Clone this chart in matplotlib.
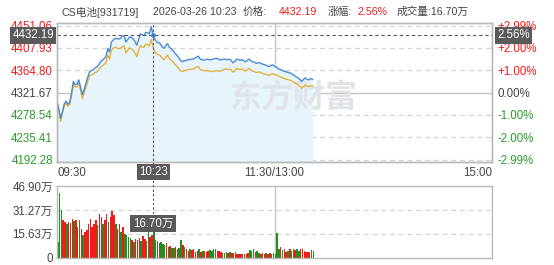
import numpy as np
import matplotlib.pyplot as plt
from matplotlib.transforms import blended_transform_factory

plt.rcParams['font.family'] = ['Liberation Sans', 'Noto Sans CJK SC']

# data, one value per minute from 09:30
prev_close = 4321.67
price = [4305, 4290, 4272, 4285, 4300, 4305, 4299, 4303, 4320, 4343,
         4337, 4338, 4346, 4332, 4318, 4328, 4340, 4352, 4362, 4364,
         4366, 4369, 4371, 4375, 4381, 4384, 4387, 4391, 4407, 4400,
         4419, 4423, 4426, 4426, 4425, 4426, 4430, 4432, 4419, 4424,
         4429, 4428, 4426, 4420, 4413, 4424, 4435, 4433, 4432, 4438,
         4437, 4435, 4449, 4432.19, 4425, 4419, 4418, 4416, 4410, 4407,
         4412, 4416, 4409, 4406, 4403, 4398, 4394, 4390, 4384, 4381,
         4383, 4383, 4385, 4385, 4386, 4386, 4388, 4390, 4392, 4386,
         4385, 4384, 4385, 4386, 4385, 4385, 4386, 4387, 4388, 4386,
         4385, 4385, 4386, 4386, 4385, 4386, 4384, 4379, 4381, 4386,
         4385, 4384, 4385, 4383, 4381, 4384, 4386, 4383, 4381, 4380,
         4378, 4379, 4379, 4377, 4376, 4375, 4373, 4372, 4374, 4375,
         4372, 4371, 4368, 4366, 4365, 4363, 4362, 4361, 4360, 4359,
         4357, 4354, 4352, 4350, 4347, 4343, 4347, 4350, 4347, 4346,
         4349, 4347]
avg_line = [4303, 4286, 4266, 4281, 4296, 4301, 4295, 4299, 4315, 4338,
            4332, 4333, 4340, 4326, 4310, 4321, 4332, 4344, 4354, 4356,
            4357, 4360, 4362, 4365, 4371, 4373, 4376, 4379, 4394, 4386,
            4404, 4407, 4409, 4408, 4406, 4407, 4410, 4412, 4398, 4403,
            4408, 4406, 4404, 4398, 4391, 4402, 4412, 4410, 4409, 4415,
            4414, 4412, 4424, 4410, 4400, 4396, 4395, 4393, 4388, 4385,
            4390, 4394, 4387, 4384, 4381, 4376, 4373, 4369, 4364, 4362,
            4364, 4364, 4366, 4366, 4367, 4367, 4369, 4371, 4372, 4366,
            4365, 4364, 4364, 4364, 4363, 4362, 4363, 4363, 4364, 4363,
            4363, 4364, 4366, 4367, 4366, 4367, 4366, 4361, 4363, 4368,
            4367, 4366, 4367, 4365, 4363, 4366, 4368, 4365, 4363, 4362,
            4360, 4361, 4361, 4359, 4358, 4357, 4356, 4355, 4357, 4358,
            4356, 4356, 4354, 4352, 4351, 4349, 4348, 4347, 4346, 4345,
            4343, 4340, 4339, 4337, 4334, 4330, 4333, 4336, 4334, 4333,
            4335, 4334]
volume = [10.3, 42.7, 31.2, 24.6, 23.5, 22.4, 23.5, 22.9, 25.7, 24.2,
          24.6, 20.2, 25.0, 19.0, 14.7, 17.0, 18.0, 22.4, 25.7, 20.2,
          22.4, 24.6, 21.3, 29.0, 26.8, 22.4, 24.6, 29.0, 23.5, 26.8,
          30.8, 28.0, 22.4, 19.0, 22.4, 17.0, 20.2, 15.8, 14.7, 13.6,
          13.2, 11.4, 10.3, 12.5, 11.4, 13.2, 11.0, 14.0, 12.5, 11.0,
          17.0, 13.6, 14.7, 16.70, 11.9, 11.0, 9.7, 10.3, 8.8, 8.1,
          9.7, 7.0, 7.5, 6.0, 6.0, 7.0, 5.3, 6.0, 11.4, 8.1,
          7.0, 5.9, 4.4, 5.9, 4.8, 5.3, 3.7, 4.4, 5.9, 3.7,
          4.4, 4.0, 3.5, 4.0, 4.8, 4.4, 5.3, 5.7, 4.4, 4.0,
          3.5, 3.1, 3.1, 3.5, 3.1, 3.5, 3.1, 3.1, 3.5, 2.6,
          2.2, 2.6, 2.2, 2.6, 2.2, 3.1, 4.8, 4.0, 5.3, 3.5,
          4.4, 3.1, 2.6, 3.1, 2.2, 3.1, 2.6, 3.1, 2.2, 3.1,
          2.6, 16.3, 5.9, 7.0, 4.8, 5.9, 3.7, 4.4, 5.9, 4.4,
          5.3, 4.8, 5.9, 4.4, 5.3, 5.9, 4.4, 3.7, 3.7, 3.7,
          4.8, 4.4]
# R = price up that minute, G = down
direction = ("GGGRRGRRRG" "RRGRGRRRRR" "RRGRRGRRGR" "RRGRRGRGGG"
             "GRGRRRGRRG" "GRRGGGRGGG" "RGRGGRRGGR" "GRRGRRRRGR"
             "GRRRGGGGRR" "RGGGRGRRGR" "RRGRRRGGGR" "GGRRRGRRGG"
             "GGGRGRRGRG" "GRGGRRRRRR" "GG")

price_ticks = [4451.06, 4407.93, 4364.80, 4321.67, 4278.54, 4235.41, 4192.28]
pct_labels = ["+2.99%", "+2.00%", "+1.00%", "0.00%", "-1.00%", "-2.00%", "-2.99%"]
vol_ticks = [0, 15.63, 31.27, 46.90]
vol_labels = ["0", "15.63万", "31.27万", "46.90万"]

cur_idx = 53
cur_time = "10:23"
cur_price = 4432.19
cur_pct = "2.56%"
cur_vol = "16.70万"

RED = '#f51a1a'
GREEN = '#2a9a2a'
GRAY_TXT = '#444444'
FRAME = '#b9b9b9'
GRID = '#d4d4d4'

W, H = 554, 265
fig = plt.figure(figsize=(W / 100, H / 100), dpi=100)


def fx(px):
    return px / W


def fy(py):
    return 1 - py / H


ax = fig.add_axes([fx(57), fy(162), (492 - 57) / W, (162 - 23) / H])
axv = fig.add_axes([fx(57), fy(257.5), (492 - 57) / W, (257.5 - 186) / H])

minutes = np.arange(len(price))

# price panel
ax.set_xlim(0, 240)
ax.set_ylim(4187.5, 4455.9)
for v in price_ticks:
    if v == prev_close:
        ax.axhline(v, color='#c4c4c4', lw=1.0, zorder=0.5)
    else:
        ax.axhline(v, color=GRID, lw=0.9, dashes=(4, 3), zorder=0.5)
ax.axvline(120, color='#c4c4c4', lw=1.0, zorder=0.5)
ax.fill_between(minutes, price, 4187.5, color='#e7f4fc', lw=0, zorder=0.8)
# faint watermark
ax.text(fx(293), fy(99), "东方财富", transform=fig.transFigure, fontsize=23,
        color='#e0e4e8', weight='bold', ha='center', va='center', zorder=1,
        family=['Noto Sans CJK SC'])
ax.plot(minutes, avg_line, color='#e3b23c', lw=1.0, zorder=2)
ax.plot(minutes, price, color='#4b8bd1', lw=1.0, zorder=3)
ax.plot([cur_idx], [cur_price], 'o', color='#3d8de0', ms=2.5, zorder=4)
ax.axhline(cur_price, color='#555555', lw=0.8, dashes=(3, 2.5), zorder=3)

ax.set_xticks([])
ax.set_yticks(price_ticks)
ax.set_yticklabels([f"{v:.2f}" for v in price_ticks])
ax.tick_params(axis='y', length=0, pad=3, labelsize=8.3)
for lbl, v in zip(ax.get_yticklabels(), price_ticks):
    lbl.set_color(RED if v > prev_close else (GREEN if v < prev_close else GRAY_TXT))

ax2 = ax.twinx()
ax2.set_ylim(ax.get_ylim())
ax2.set_yticks(price_ticks)
ax2.set_yticklabels(pct_labels)
ax2.tick_params(axis='y', length=0, pad=4, labelsize=8.3)
for lbl, v in zip(ax2.get_yticklabels(), price_ticks):
    lbl.set_color(RED if v > prev_close else (GREEN if v < prev_close else GRAY_TXT))

for a in (ax, ax2, axv):
    for s in a.spines.values():
        s.set_color(FRAME)
        s.set_linewidth(1.0)

# volume panel
axv.set_xlim(0, 240)
axv.set_ylim(0, 47.3)
for v in vol_ticks[1:3]:
    axv.axhline(v, color=GRID, lw=0.9, dashes=(4, 3), zorder=0.5)
axv.axvline(120, color='#c4c4c4', lw=1.0, zorder=0.5)
bar_colors = [RED if d == 'R' else '#1f8f1f' for d in direction]
axv.bar(minutes, volume, width=0.85, align='edge', color=bar_colors, lw=0, zorder=2)
axv.set_xticks([])
axv.set_yticks(vol_ticks)
axv.set_yticklabels(vol_labels)
axv.tick_params(axis='y', length=0, pad=3, labelsize=8.3, labelcolor=GRAY_TXT)

# crosshair through both panels
tr = blended_transform_factory(ax.transData, fig.transFigure)
fig.add_artist(plt.Line2D([cur_idx, cur_idx], [fy(257.5), fy(23)], transform=tr,
                          color='#555555', lw=0.8, dashes=(2, 2), zorder=5))

box = dict(boxstyle='square,pad=0.18', fc='#5a5a5a', ec='none')
# time labels between the panels
fig.text(fx(57), fy(173), "09:30", fontsize=8.3, color=GRAY_TXT, ha='left', va='center')
fig.text(fx(274.5), fy(173), "11:30/13:00", fontsize=8.3, color=GRAY_TXT, ha='center', va='center')
fig.text(fx(492), fy(173), "15:00", fontsize=8.3, color=GRAY_TXT, ha='right', va='center')
fig.text(fx(153.5), fy(172), cur_time, fontsize=8.3, color='white', ha='center', va='center',
         bbox=box, zorder=6)
fig.text(fx(54), fy(35.5), f"{cur_price:.2f}", fontsize=8.3, color='white', ha='right',
         va='center', bbox=box, zorder=6)
fig.text(fx(497), fy(35.5), cur_pct, fontsize=8.3, color='white', ha='left',
         va='center', bbox=box, zorder=6)
fig.text(fx(153), fy(223.5), cur_vol, fontsize=8.3, color='white', ha='center',
         va='center', bbox=dict(boxstyle='square,pad=0.25', fc='#5a5a5a', ec='none'), zorder=6)

# header line
ty = fy(12)
hs = 7.7
fig.text(fx(61), ty, "CS电池[931719]", fontsize=hs, color=GRAY_TXT, va='center')
fig.text(fx(153), ty, "2026-03-26 10:23", fontsize=hs, color=GRAY_TXT, va='center')
fig.text(fx(243), ty, "价格:", fontsize=hs, color=GRAY_TXT, va='center')
fig.text(fx(279), ty, f"{cur_price:.2f}", fontsize=hs, color=RED, va='center')
fig.text(fx(328), ty, "涨幅:", fontsize=hs, color=GRAY_TXT, va='center')
fig.text(fx(357), ty, cur_pct, fontsize=hs, color=RED, va='center')
fig.text(fx(397), ty, "成交量:" + cur_vol, fontsize=hs, color=GRAY_TXT, va='center')

fig.savefig('out.png', dpi=100)
